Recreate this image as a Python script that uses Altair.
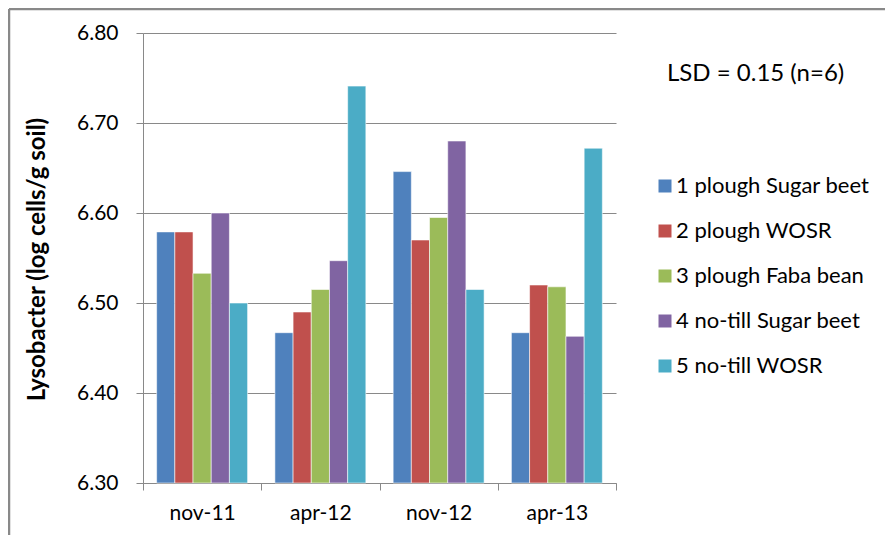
import altair as alt
import pandas as pd

dates = ["nov-11", "apr-12", "nov-12", "apr-13"]
series = ["1 plough Sugar beet", "2 plough WOSR", "3 plough Faba bean",
          "4 no-till Sugar beet", "5 no-till WOSR"]
colors = ["#4F81BD", "#C0504D", "#9BBB59", "#8064A2", "#4BACC6"]
plough_sugar_beet = [6.579, 6.467, 6.646, 6.467]
plough_wosr = [6.579, 6.490, 6.570, 6.520]
plough_faba_bean = [6.533, 6.515, 6.595, 6.518]
notill_sugar_beet = [6.600, 6.547, 6.680, 6.463]
notill_wosr = [6.500, 6.741, 6.515, 6.672]
y_ticks = [6.3, 6.4, 6.5, 6.6, 6.7, 6.8]
base_value = 6.3
lsd_label = "LSD = 0.15 (n=6)"
y_title = "Lysobacter (log cells/g soil)"

all_values = [plough_sugar_beet, plough_wosr, plough_faba_bean, notill_sugar_beet, notill_wosr]
rows = []
for s, vals in zip(series, all_values):
    for d, v in zip(dates, vals):
        rows.append({"date": d, "series": s, "value": v, "base": base_value})
df = pd.DataFrame(rows)

FONT = "Lato"
GRAY = "#898989"

bars = alt.Chart(df).mark_bar(stroke="white", strokeWidth=0.8, strokeOpacity=0.7).encode(
    x=alt.X("date:N", sort=dates, title=None,
            scale=alt.Scale(paddingInner=0, paddingOuter=0),
            axis=alt.Axis(tickBand="extent", labelAngle=0, labelFontSize=21, labelFont=FONT,
                          labelColor="#000", labelPadding=12, tickSize=7, tickColor=GRAY,
                          domainColor=GRAY, grid=False)),
    xOffset=alt.XOffset("series:N", sort=series,
                        scale=alt.Scale(paddingInner=0, paddingOuter=0.75)),
    y=alt.Y("value:Q", scale=alt.Scale(domain=[6.3, 6.8], zero=False, nice=False),
            axis=alt.Axis(values=y_ticks, format=".2f", title=y_title, labelFontSize=21,
                          labelFont=FONT, labelColor="#000", labelPadding=18, tickSize=7,
                          tickColor=GRAY, domainColor=GRAY, gridColor=GRAY,
                          titleFont=FONT, titleFontWeight="bold", titleFontSize=24,
                          titleColor="#000", titleX=-106, titleY=226, titleAngle=-90,
                          titleAlign="center", titleBaseline="middle")),
    y2=alt.Y2("base:Q"),
    color=alt.Color("series:N", sort=series,
                    scale=alt.Scale(domain=series, range=colors),
                    legend=alt.Legend(title=None, orient="none", legendX=511, legendY=142,
                                      symbolType="square", symbolSize=169, symbolStrokeWidth=0,
                                      labelFontSize=22, labelFont=FONT, labelColor="#000",
                                      labelLimit=0, rowPadding=23, labelOffset=0, padding=0)),
)

lsd = alt.Chart(pd.DataFrame({"t": [lsd_label]})).mark_text(
    align="left", baseline="middle", fontSize=24, font=FONT, color="#000"
).encode(x=alt.value(524), y=alt.value(41), text="t:N")

frame_top = alt.Chart(pd.DataFrame({"k": [0]})).mark_rule(color=GRAY, strokeWidth=2.5).encode(
    x=alt.value(-134), x2=alt.value(760), y=alt.value(-24))
frame_left = alt.Chart(pd.DataFrame({"k": [0]})).mark_rule(color=GRAY, strokeWidth=2.5).encode(
    x=alt.value(-134), y=alt.value(-24), y2=alt.value(520))

chart = alt.layer(bars, lsd, frame_top, frame_left).properties(
    width=473, height=450,
    autosize=alt.AutoSizeParams(type="none"),
    padding={"left": 135, "top": 25, "right": 269, "bottom": 52},
    background="white",
).configure_view(stroke=None)

chart.save("out.html", embed_options={"renderer": "svg", "actions": False})
